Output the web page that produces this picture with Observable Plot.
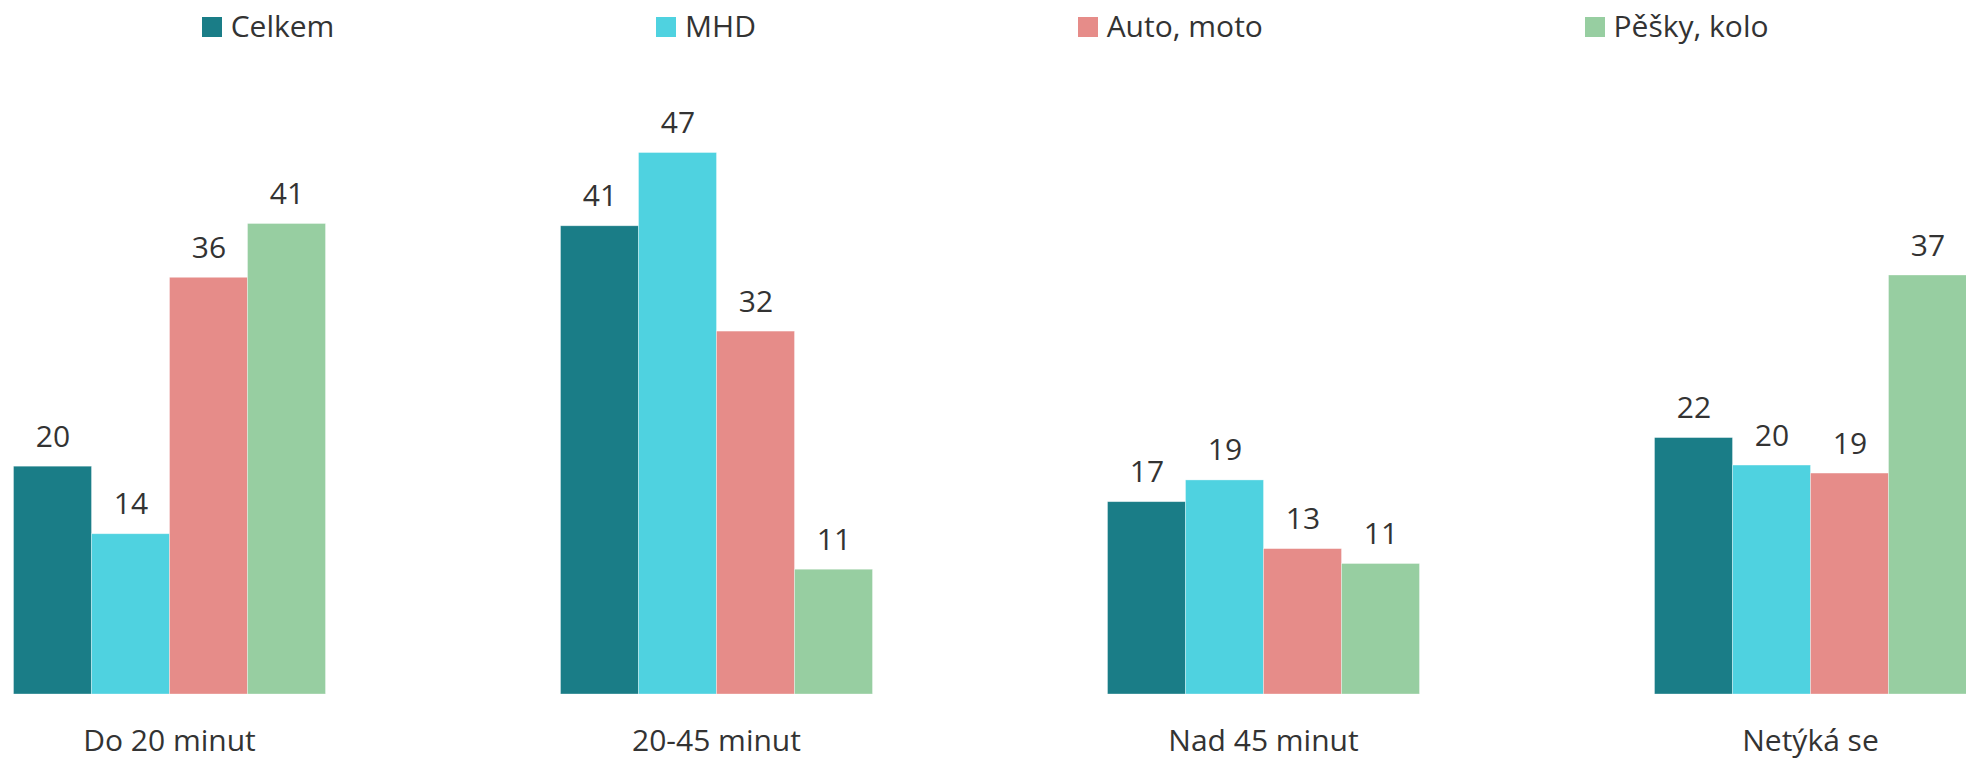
<!DOCTYPE html>
<html>
<head>
<meta charset="utf-8">
<script src="https://cdn.jsdelivr.net/npm/d3@7"></script>
<script src="https://cdn.jsdelivr.net/npm/@observablehq/plot@0.6"></script>
<style>
  html, body { margin: 0; padding: 0; background: #fff; overflow: hidden; }
  #wrap { width: 1966px; font-family: "Open Sans", sans-serif; color: #333; }
  #legend { position: relative; height: 50px; }
  #legend .items { position: absolute; left: 202px; top: 4.6px; display: flex; gap: 322px; font-size: 30px; line-height: normal; white-space: nowrap; }
  #legend .item { display: inline-block; }
  #legend .sw { display: inline-block; width: 20px; height: 20px; margin-right: 8.7px; vertical-align: baseline; }
</style>
</head>
<body>
<div id="wrap">
  <div id="legend"><div class="items"></div></div>
  <div id="chart"></div>
</div>
<script>
const categories = ["Do 20 minut", "20-45 minut", "Nad 45 minut", "Netýká se"];
const series = ["Celkem", "MHD", "Auto, moto", "Pěšky, kolo"];
// values (labels show them rounded)
const celkem = [19.9, 40.9, 16.8, 22.4];
const mhd = [14.0, 47.3, 18.7, 20.0];
const autoMoto = [36.4, 31.7, 12.7, 19.3];
const peskyKolo = [41.1, 10.9, 11.4, 36.6];
const colors = ["#1A7D87", "#4FD2E0", "#E68C89", "#97CEA1"];

const seriesValues = [celkem, mhd, autoMoto, peskyKolo];
const rows = [];
categories.forEach((cat, i) => {
  series.forEach((s, j) => {
    rows.push({cat, series: s, value: seriesValues[j][i]});
  });
});

// Legend
const items = document.querySelector("#legend .items");
series.forEach((s, j) => {
  const it = document.createElement("span");
  it.className = "item";
  const sw = document.createElement("span");
  sw.className = "sw";
  sw.style.background = colors[j];
  it.appendChild(sw);
  it.appendChild(document.createTextNode(s));
  items.appendChild(it);
});

const chart = Plot.plot({
  width: 1966,
  height: 709,
  marginTop: 71.6,
  marginBottom: 65,
  marginLeft: 12.5,
  marginRight: 0,
  style: {fontFamily: "'Open Sans', sans-serif", color: "#333", background: "#fff", overflow: "visible"},
  fx: {domain: categories, paddingInner: 0.43, paddingOuter: 0, label: null},
  x: {domain: series, padding: 0, axis: null},
  y: {domain: [0, 50], axis: null},
  color: {domain: series, range: colors},
  marks: [
    Plot.barY(rows, {fx: "cat", x: "series", y: "value", fill: "series", inset: 0, stroke: "#fff", strokeOpacity: 0.45, strokeWidth: 0.75}),
    Plot.text(rows, {fx: "cat", x: "series", y: "value", text: d => String(Math.round(d.value)), dy: -20, lineAnchor: "bottom", fontSize: 30, fill: "currentColor"}),
    Plot.axisFx({anchor: "bottom", tickSize: 0, tickPadding: 35, fontSize: 30, label: null})
  ]
});
document.getElementById("chart").appendChild(chart);
</script>
</body>
</html>
